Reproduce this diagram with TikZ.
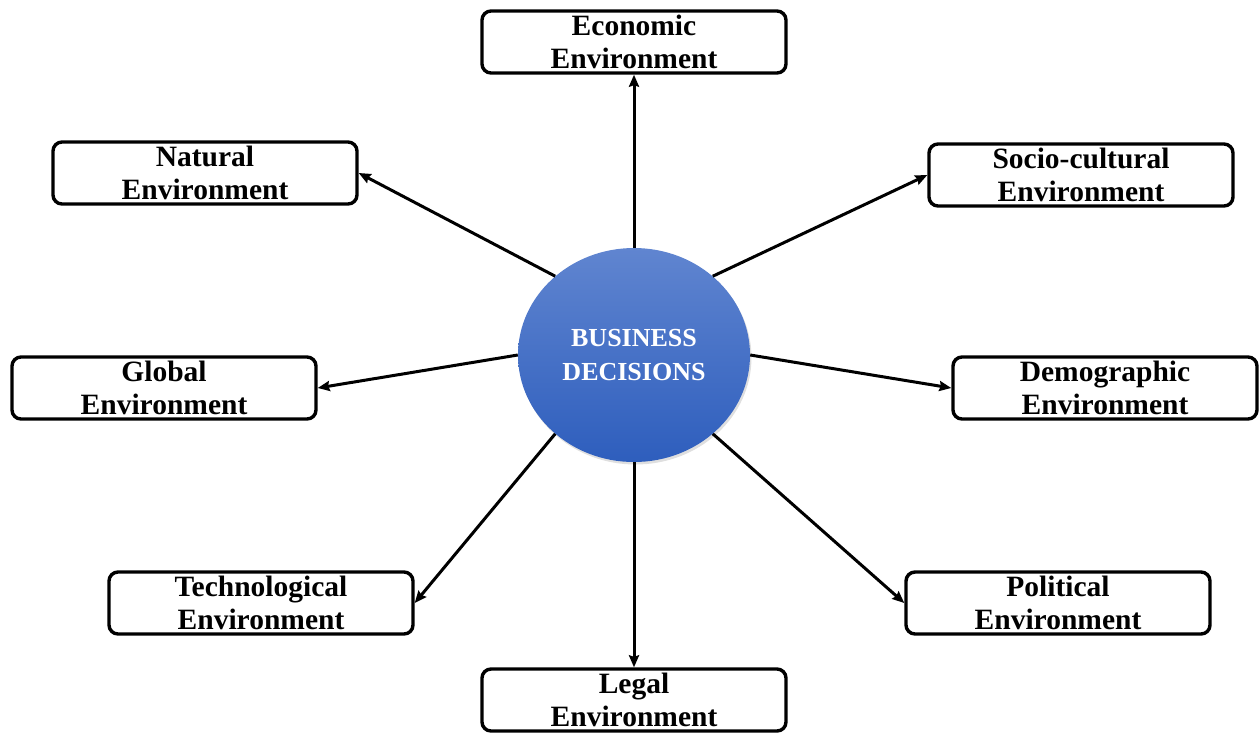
\documentclass[tikz,border=0pt]{standalone}
\usepackage{fontspec}
\setmainfont{Liberation Serif}
\usepackage{tikz}
\usetikzlibrary{positioning,shapes,shadows,arrows.meta}

\definecolor{disctop}{RGB}{96,133,208}
\definecolor{discbot}{RGB}{46,94,189}

\begin{document}
\begin{tikzpicture}[x=1pt,y=1pt]
    \tikzstyle{every node}=[inner sep=0]
    \tikzstyle{env}=[draw=black,line width=3.4,rounded corners=9,fill=white,
        minimum width=304,minimum height=62,align=center,
        font=\bfseries\fontsize{29.5}{32.5}\selectfont]
    \tikzstyle{core}=[ellipse,minimum width=232,minimum height=214,
        top color=disctop,bottom color=discbot,text=white,align=center,
        font=\bfseries\fontsize{26}{34}\selectfont,
        drop shadow={opacity=0.25,shadow xshift=1.5,shadow yshift=-2.5}]
    \tikzstyle{link}=[->,>={Stealth[length=12,width=10,inset=1.5]},line width=3]

    \useasboundingbox (0,0) rectangle (1260,-732);

    % centre
    \node[core] (biz) at (634,-355) {BUSINESS\\DECISIONS};

    % surrounding environments
    \node[env] (econ)  at (634,-42)   {Economic\\Environment};
    \node[env] (nat)   at (205,-173)  {Natural\\Environment};
    \node[env] (socio) at (1081,-175) {Socio-cultural\\Environment};
    \node[env] (glob)  at (164,-388)  {Global\\Environment};
    \node[env] (demo)  at (1105,-388) {Demographic\\Environment};
    \node[env] (tech)  at (261,-603)  {Technological\\Environment};
    \node[env] (pol)   at (1058,-603) {Political\\Environment};
    \node[env] (legal) at (634,-700)  {Legal\\Environment};

    \foreach \ang/\target/\side in {90/econ/south,135/nat/east,45/socio/west,
        180/glob/east,0/demo/west,225/tech/east,315/pol/west,270/legal/north}
        \draw[link] (biz.\ang) -- (\target.\side);
\end{tikzpicture}
\end{document}
